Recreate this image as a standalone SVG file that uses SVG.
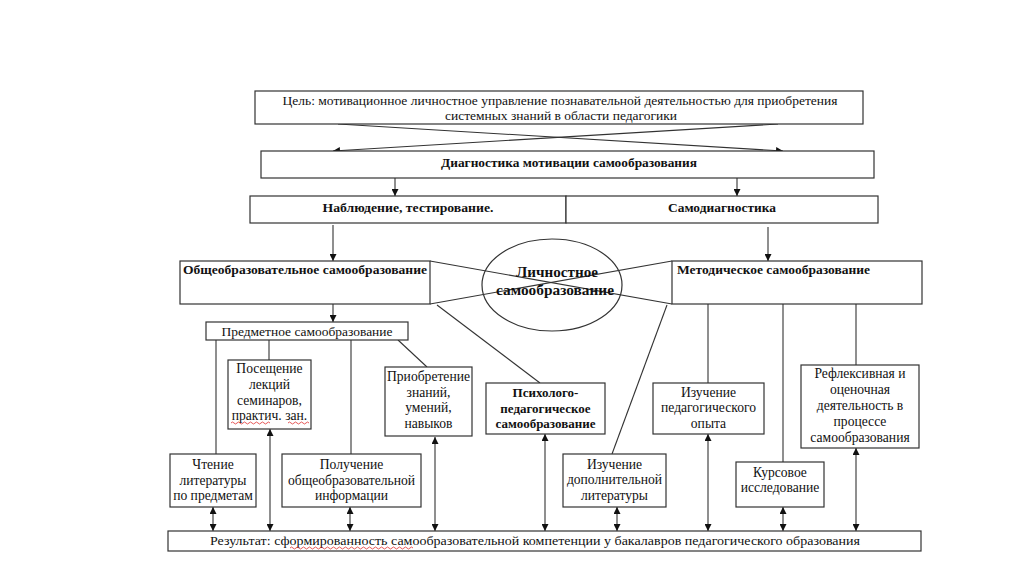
<svg xmlns="http://www.w3.org/2000/svg" width="1024" height="583" viewBox="0 0 1024 583">
<defs>
<marker id="ah" viewBox="0 0 10 10" refX="10" refY="5" markerWidth="7" markerHeight="7" markerUnits="userSpaceOnUse" orient="auto-start-reverse">
<path d="M0,0 L10,5 L0,10 z" fill="#111"/>
</marker>
<style>
.box{fill:#fff;stroke:#333;stroke-width:1.2}
.ln{fill:none;stroke:#333;stroke-width:1.1}
.t{font-family:"Liberation Serif","Times New Roman",serif;font-size:13px;fill:#111;text-anchor:middle}
.s{font-size:13.6px}
.b{font-weight:bold}
.l{text-anchor:start}
.sq{fill:none;stroke:#e03030;stroke-width:0.8}
</style>
</defs>
<rect width="1024" height="583" fill="#fff"/>

<g id="connectors">
<line class="ln" x1="338" y1="124" x2="783" y2="151" marker-end="url(#ah)"/>
<line class="ln" x1="778" y1="124" x2="333" y2="151" marker-end="url(#ah)"/>
<line class="ln" x1="395" y1="178" x2="395" y2="196" marker-end="url(#ah)"/>
<line class="ln" x1="737" y1="178" x2="737" y2="196" marker-end="url(#ah)"/>
<line class="ln" x1="333" y1="225" x2="333" y2="261" marker-end="url(#ah)"/>
<line class="ln" x1="768" y1="227" x2="768" y2="261" marker-end="url(#ah)"/>
<line class="ln" x1="430" y1="261" x2="672" y2="304"/>
<line class="ln" x1="672" y1="261" x2="430" y2="304"/>
<line class="ln" x1="333" y1="304" x2="333" y2="322" marker-end="url(#ah)"/>
<line class="ln" x1="216" y1="340" x2="216" y2="454"/>
<line class="ln" x1="269" y1="340" x2="269" y2="360"/>
<line class="ln" x1="351" y1="340" x2="351" y2="454"/>
<line class="ln" x1="398" y1="340" x2="427" y2="367"/>
<line class="ln" x1="437" y1="305" x2="540" y2="383"/>
<line class="ln" x1="667" y1="305" x2="612" y2="454"/>
<line class="ln" x1="708" y1="304" x2="708" y2="383"/>
<line class="ln" x1="783" y1="304" x2="783" y2="462"/>
<line class="ln" x1="856" y1="304" x2="856" y2="365"/>
<line class="ln" x1="213" y1="507" x2="213" y2="531" marker-start="url(#ah)" marker-end="url(#ah)"/>
<line class="ln" x1="270" y1="429" x2="270" y2="531" marker-start="url(#ah)" marker-end="url(#ah)"/>
<line class="ln" x1="350" y1="507" x2="350" y2="531" marker-start="url(#ah)" marker-end="url(#ah)"/>
<line class="ln" x1="435" y1="437" x2="435" y2="531" marker-start="url(#ah)" marker-end="url(#ah)"/>
<line class="ln" x1="545" y1="434" x2="545" y2="531" marker-start="url(#ah)" marker-end="url(#ah)"/>
<line class="ln" x1="617" y1="507" x2="617" y2="531" marker-start="url(#ah)" marker-end="url(#ah)"/>
<line class="ln" x1="708" y1="434" x2="708" y2="531" marker-start="url(#ah)" marker-end="url(#ah)"/>
<line class="ln" x1="783" y1="507" x2="783" y2="531" marker-start="url(#ah)" marker-end="url(#ah)"/>
<line class="ln" x1="856" y1="448" x2="856" y2="531" marker-start="url(#ah)" marker-end="url(#ah)"/>
</g>

<g id="goal">
<rect class="box" x="255" y="91" width="608" height="33"/>
<text class="t" x="560" y="105" textLength="555" lengthAdjust="spacingAndGlyphs">Цель: мотивационное личностное управление познавательной деятельностью для приобретения</text>
<text class="t" x="561" y="120" textLength="232" lengthAdjust="spacingAndGlyphs">системных знаний в области педагогики</text>
</g>

<g id="diagnostics">
<rect class="box" x="261" y="151" width="613" height="27"/>
<text class="t b" x="569" y="167" textLength="256" lengthAdjust="spacingAndGlyphs">Диагностика мотивации самообразования</text>
</g>

<g id="observation">
<rect class="box" x="250" y="196" width="316" height="27"/>
<text class="t b" x="408" y="212" textLength="171" lengthAdjust="spacingAndGlyphs">Наблюдение, тестирование.</text>
</g>

<g id="selfdiag">
<rect class="box" x="566" y="196" width="312" height="27"/>
<text class="t b" x="722" y="212" textLength="108" lengthAdjust="spacingAndGlyphs">Самодиагностика</text>
</g>

<g id="general">
<rect class="box" x="180" y="261" width="250" height="43" style="fill:none"/>
<text class="t b l" x="183" y="274" textLength="244" lengthAdjust="spacingAndGlyphs">Общеобразовательное самообразование</text>
</g>

<g id="methodical">
<rect class="box" x="672" y="261" width="250" height="43" style="fill:none"/>
<text class="t b l" x="677" y="274" textLength="193" lengthAdjust="spacingAndGlyphs">Методическое самообразование</text>
</g>

<g id="personal">
<ellipse cx="552" cy="285" rx="70" ry="46" fill="none" stroke="#333" stroke-width="1.2"/>
<text class="t b" x="557" y="277" style="font-size:15px" textLength="82" lengthAdjust="spacingAndGlyphs">Личностное</text>
<text class="t b" x="555" y="295" style="font-size:15px" textLength="118" lengthAdjust="spacingAndGlyphs">самообразование</text>
</g>

<g id="subject">
<rect class="box" x="206" y="322" width="202" height="18"/>
<text class="t" x="307" y="336" textLength="171" lengthAdjust="spacingAndGlyphs">Предметное самообразование</text>
</g>

<g id="lectures">
<rect class="box" x="228" y="360" width="83" height="69"/>
<text class="t s" x="269.5" y="373">Посещение</text>
<text class="t s" x="269.5" y="389">лекций</text>
<text class="t s" x="269.5" y="405">семинаров,</text>
<text class="t s" x="269.5" y="420">практич. зан.</text>
<path class="sq" d="M231,423 q1.5,-2 3,0 t3,0 t3,0 t3,0 t3,0 t3,0 t3,0 t3,0 t3,0 t3,0 t3,0 t3,0 t3,0 M288,423 q1.5,-2 3,0 t3,0 t3,0 t3,0 t3,0 t3,0 t3,0"/>
</g>

<g id="skills">
<rect class="box" x="385" y="367" width="87" height="69"/>
<text class="t s" x="428.5" y="381">Приобретение</text>
<text class="t s" x="428.5" y="397">знаний,</text>
<text class="t s" x="428.5" y="412">умений,</text>
<text class="t s" x="428.5" y="428">навыков</text>
</g>

<g id="reading">
<rect class="box" x="170" y="454" width="86" height="53"/>
<text class="t s" x="213" y="469">Чтение</text>
<text class="t s" x="213" y="485">литературы</text>
<text class="t s" x="213" y="500">по предметам</text>
</g>

<g id="info">
<rect class="box" x="282" y="454" width="139" height="53"/>
<text class="t s" x="351.5" y="469">Получение</text>
<text class="t s" x="351.5" y="485">общеобразовательной</text>
<text class="t s" x="351.5" y="500">информации</text>
</g>

<g id="psych">
<rect class="box" x="486" y="383" width="119" height="51"/>
<text class="t b" x="545.5" y="397">Психолого-</text>
<text class="t b" x="545.5" y="413">педагогическое</text>
<text class="t b" x="545.5" y="428">самообразование</text>
</g>

<g id="addlit">
<rect class="box" x="563" y="454" width="103" height="53"/>
<text class="t s" x="614.5" y="469">Изучение</text>
<text class="t s" x="614.5" y="484">дополнительной</text>
<text class="t s" x="614.5" y="500">литературы</text>
</g>

<g id="experience">
<rect class="box" x="653" y="383" width="111" height="51"/>
<text class="t s" x="708.5" y="397">Изучение</text>
<text class="t s" x="708.5" y="412">педагогического</text>
<text class="t s" x="708.5" y="428">опыта</text>
</g>

<g id="course">
<rect class="box" x="736" y="462" width="88" height="45"/>
<text class="t s" x="780" y="477">Курсовое</text>
<text class="t s" x="780" y="492">исследование</text>
</g>

<g id="reflexive">
<rect class="box" x="801" y="365" width="118" height="83"/>
<text class="t s" x="860" y="378">Рефлексивная и</text>
<text class="t s" x="860" y="394">оценочная</text>
<text class="t s" x="860" y="410">деятельность в</text>
<text class="t s" x="860" y="426">процессе</text>
<text class="t s" x="860" y="442">самообразования</text>
</g>

<g id="result">
<rect class="box" x="168" y="531" width="753" height="20"/>
<text class="t" x="535" y="545" textLength="650" lengthAdjust="spacingAndGlyphs">Результат: сформированность самообразовательной компетенции у бакалавров педагогического образования</text>
<path class="sq" d="M290,548 q1.5,-2 3,0 t3,0 t3,0 t3,0 t3,0 t3,0 t3,0 t3,0 t3,0 t3,0 t3,0 t3,0 t3,0 t3,0 t3,0 t3,0 t3,0 t3,0 t3,0 t3,0 t3,0 t3,0 t3,0 t3,0 t3,0 t3,0 t3,0 t3,0 t3,0 t3,0 t3,0 t3,0 t3,0 t3,0 t3,0 t3,0 t3,0 t3,0 t3,0 t3,0 t3,0"/>
</g>
</svg>
